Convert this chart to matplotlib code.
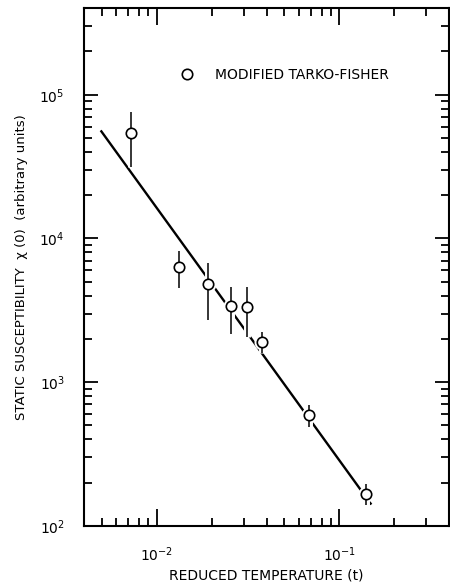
import numpy as np
import matplotlib
matplotlib.use('Agg')
import matplotlib.pyplot as plt
import matplotlib.patheffects as pe
from matplotlib.ticker import LogLocator, NullFormatter, FixedLocator, FixedFormatter

# ============ 数据 ============
t_vals = [0.00726, 0.01324, 0.0192, 0.02547, 0.0313, 0.0376, 0.0680, 0.1406]
chi_vals = [54000, 6350, 4790, 3365, 3310, 1889, 593, 168]
chi_hi = [75300, 8200, 6740, 4570, 4610, 2220, 697, 196]
chi_lo = [31600, 4540, 2700, 2180, 2070, 1585, 490, 140]

fit_t = [0.00497, 0.1486]
fit_chi = [55600, 143]

legend_label = "MODIFIED TARKO-FISHER"
x_label = "REDUCED TEMPERATURE (t)"
y_label = "STATIC SUSCEPTIBILITY  \u03c7 (0)  (arbitrary units)"

plt.rcParams['font.family'] = ['DejaVu Sans']

fig = plt.figure(figsize=(4.5, 5.85), dpi=100)
ax = fig.add_axes([0.187, 0.101, 0.811, 0.885])

ax.set_xscale('log')
ax.set_yscale('log')
ax.set_xlim(4e-3, 0.4)
ax.set_ylim(100, 4e5)

# 拟合直线
ax.plot(fit_t, fit_chi, color='black', lw=1.7, zorder=1)

# 圆点外圈白色，使直线在圆点处断开
ax.plot(t_vals, chi_vals, linestyle='none', marker='o', markersize=7.5,
        markerfacecolor='white', markeredgecolor='white', markeredgewidth=4, zorder=1.5)

# 误差棒（白色描边使直线断开）
halo = [pe.Stroke(linewidth=5, foreground='white'), pe.Normal()]
for t, lo, hi in zip(t_vals, chi_lo, chi_hi):
    ax.plot([t, t], [lo, hi], color='black', lw=1.1, zorder=2,
            path_effects=halo, solid_capstyle='butt')

# 数据点
ax.plot(t_vals, chi_vals, linestyle='none', marker='o', markersize=7.5,
        markerfacecolor='white', markeredgecolor='black', markeredgewidth=1.2, zorder=4,
        label=legend_label)

# 图例
ax.legend(loc='center left', bbox_to_anchor=(0.232, 0.871), frameon=False,
          handlelength=0.8, handletextpad=1.6, fontsize=10)

# 坐标轴
for s in ax.spines.values():
    s.set_linewidth(1.5)

ax.xaxis.set_major_locator(FixedLocator([1e-2, 1e-1]))
ax.xaxis.set_major_formatter(FixedFormatter(['$10^{-2}$', '$10^{-1}$']))
ax.xaxis.set_minor_locator(LogLocator(base=10, subs=np.arange(2, 10), numticks=20))
ax.xaxis.set_minor_formatter(NullFormatter())
ax.yaxis.set_major_locator(FixedLocator([1e2, 1e3, 1e4, 1e5]))
ax.yaxis.set_major_formatter(FixedFormatter(['$10^{2}$', '$10^{3}$', '$10^{4}$', '$10^{5}$']))
ax.yaxis.set_minor_locator(LogLocator(base=10, subs=np.arange(2, 10), numticks=20))
ax.yaxis.set_minor_formatter(NullFormatter())

ax.tick_params(which='both', direction='in', top=True, right=True, width=1.3, labelsize=10)
ax.tick_params(axis='x', which='major', length=12, pad=14)
ax.tick_params(axis='x', which='minor', length=6)
ax.tick_params(axis='y', which='major', length=10, pad=14)
ax.tick_params(axis='y', which='minor', length=5.5)

ax.set_xlabel(x_label, fontsize=10, labelpad=3)
ax.set_ylabel(y_label, fontsize=9.5, labelpad=8)

plt.savefig('out.png', dpi=100)
plt.close()
